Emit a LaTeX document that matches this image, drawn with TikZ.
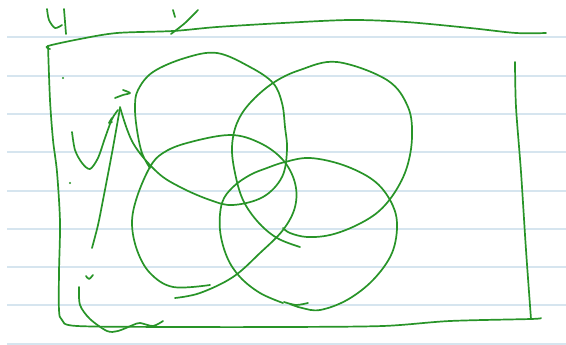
\documentclass[tikz,border=0pt]{standalone}
\definecolor{inkgreen}{RGB}{40,148,40}
\definecolor{rulebl}{RGB}{214,229,239}
\begin{document}
\begin{tikzpicture}[x=1pt,y=-1pt,
  ink/.style={draw=inkgreen, line width=1.7pt, line cap=round, line join=round},
  rule/.style={draw=rulebl, line width=2.2pt}]
\fill[white] (0,0) rectangle (566,345);
\useasboundingbox (0,0) rectangle (566,345);
% ruled paper lines
\foreach \yy in {37,76,114,152,191,229,267,305,344}
  \draw[rule] (7,\yy) -- (566,\yy);
% marks above the frame
\draw[ink] plot[smooth] coordinates {(47,9) (49,20) (55,28) (62,25)};
\draw[ink] (64,9) -- (66,34);
\draw[ink] (173,10) -- (175,17);
\draw[ink] plot[smooth] coordinates {(198,10) (185,23) (171,34)};
% frame
\draw[ink] plot[smooth, tension=0.5] coordinates {(50,49) (48,46) (80,39) (117,33) (173,31) (217,27) (283,23) (350,20) (406,22) (470,28) (516,33) (546,33)};
\draw[ink] plot[smooth, tension=0.5] coordinates {(48,46) (50,100) (53,140) (57,172) (60,222) (59,272) (59,310) (62,320) (77,326) (180,327) (283,327) (383,326) (450,321) (531,319) (541,318)};
\draw[ink] plot[smooth, tension=0.5] coordinates {(515,62) (516,107) (521,172) (526,250) (531,319)};
% dots
\fill[inkgreen] (63,78) circle (1.2pt);
\fill[inkgreen] (70,183) circle (1.2pt);
% left scribbles
\draw[ink] plot[smooth] coordinates {(72,132) (75,150) (82,163) (90,169) (98,158) (105,138) (112,119) (118,110)};
\draw[ink] plot[smooth] coordinates {(112,122) (109,123) (112,118)};
\draw[ink] plot[smooth] coordinates {(115,98) (123,95) (130,93) (123,90)};
\draw[ink] plot[smooth] coordinates {(120,108) (112,153) (103,200) (98,225) (92,248)};
\draw[ink] plot[smooth] coordinates {(86,276) (89,279) (93,275)};
\draw[ink] plot[smooth] coordinates {(79,287) (80,305) (90,319) (107,331) (118,331) (133,325) (140,323) (153,326) (163,321)};
% loop A
\draw[ink] plot[smooth, tension=0.6] coordinates {(120,107) (133,143) (157,172) (180,187) (210,200) (233,205) (263,197) (282,177) (287,150) (285,127) (282,103) (273,83) (250,67) (217,53) (185,58) (153,72) (138,90) (135,107) (137,130) (142,153) (150,168)};
% loop B
\draw[ink] plot[smooth, tension=0.6] coordinates {(300,247) (277,238) (258,222) (243,200) (235,173) (232,147) (237,123) (250,103) (273,83) (300,70) (337,62) (387,80) (408,107) (412,137) (407,167) (395,192) (378,212) (355,226) (330,235) (307,237) (290,233) (283,228)};
% loop C
\draw[ink] plot[smooth, tension=0.6] coordinates {(175,298) (200,293) (233,277) (260,253) (283,230) (295,207) (295,183) (283,160) (260,143) (230,135) (187,143) (163,153) (150,167) (137,197) (132,223) (137,250) (150,273) (173,287) (210,285)};
% loop D
\draw[ink] plot[smooth, tension=0.6] coordinates {(283,303) (260,293) (240,277) (227,257) (220,230) (222,203) (233,187) (250,175) (267,168) (285,162) (310,158) (343,165) (373,180) (390,200) (397,223) (392,253) (373,280) (347,300) (320,310) (302,308) (290,304)};
\draw[ink] plot[smooth] coordinates {(284,302) (296,305) (308,303)};
\end{tikzpicture}
\end{document}
